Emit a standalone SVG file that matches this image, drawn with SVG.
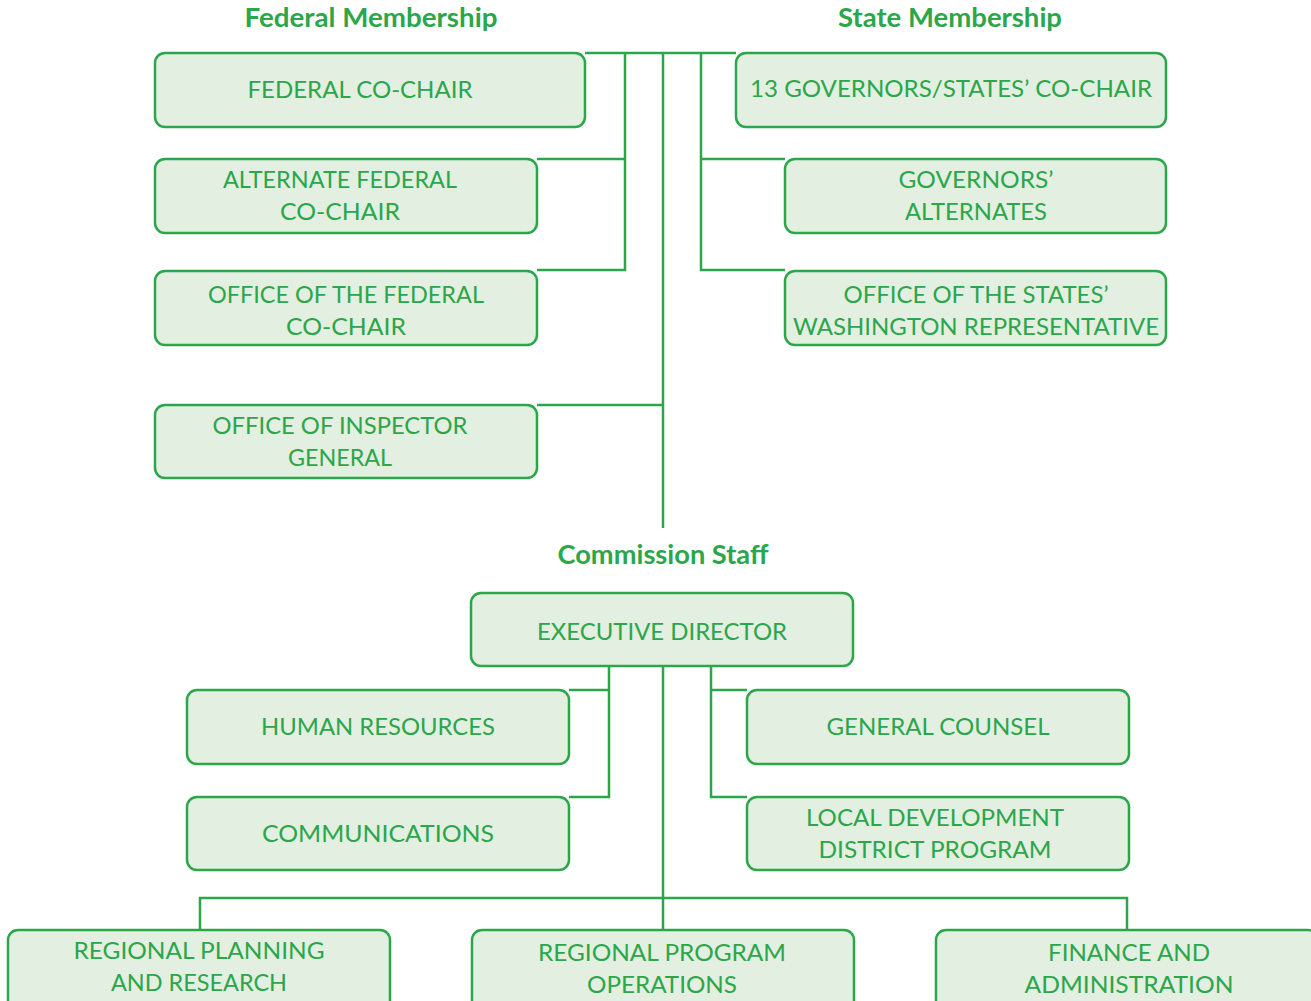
<svg xmlns="http://www.w3.org/2000/svg" width="1311" height="1001" viewBox="0 0 1311 1001">
<style>
.box{fill:#e3efe0;stroke:#2ba64a;stroke-width:2.5}
.ln{fill:none;stroke:#2ba64a;stroke-width:2.5}
.t{font-family:Lato,"Open Sans","Liberation Sans",sans-serif;font-size:24px;fill:#2ba64a;text-anchor:middle}
.h{font-family:Lato,"Open Sans","Liberation Sans",sans-serif;font-size:26px;font-weight:bold;fill:#2ba64a;text-anchor:middle}
</style>
<rect width="1311" height="1001" fill="#fff"/>
<g id="headers">
<text class="h" x="371" y="27" textLength="253" lengthAdjust="spacingAndGlyphs">Federal Membership</text>
<text class="h" x="950" y="27" textLength="224" lengthAdjust="spacingAndGlyphs">State Membership</text>
<text class="h" x="663" y="564" textLength="211" lengthAdjust="spacingAndGlyphs">Commission Staff</text>
</g>
<g id="connectors">
<path class="ln" d="M585 53H736"/>
<path class="ln" d="M625 53V270H537M625 159H537"/>
<path class="ln" d="M663 53V528"/>
<path class="ln" d="M663 405H537"/>
<path class="ln" d="M701 53V270H785M701 159H785"/>
<path class="ln" d="M609 666V797H569M609 690H569"/>
<path class="ln" d="M711 666V797H747M711 690H747"/>
<path class="ln" d="M663 666V930"/>
<path class="ln" d="M200 930V898H1127V930"/>
</g>
<g id="federal-co-chair">
<rect class="box" x="155" y="53" width="430" height="74" rx="10"/>
<text class="t" x="360" y="98" textLength="225" lengthAdjust="spacingAndGlyphs">FEDERAL CO-CHAIR</text>
</g>
<g id="alternate-federal-co-chair">
<rect class="box" x="155" y="159" width="382" height="74" rx="10"/>
<text class="t" x="340" y="188" textLength="234" lengthAdjust="spacingAndGlyphs">ALTERNATE FEDERAL</text>
<text class="t" x="340" y="220" textLength="120" lengthAdjust="spacingAndGlyphs">CO-CHAIR</text>
</g>
<g id="office-federal-co-chair">
<rect class="box" x="155" y="271" width="382" height="74" rx="10"/>
<text class="t" x="346" y="303" textLength="276" lengthAdjust="spacingAndGlyphs">OFFICE OF THE FEDERAL</text>
<text class="t" x="346" y="335" textLength="120" lengthAdjust="spacingAndGlyphs">CO-CHAIR</text>
</g>
<g id="inspector-general">
<rect class="box" x="155" y="405" width="382" height="73" rx="10"/>
<text class="t" x="340" y="434" textLength="255" lengthAdjust="spacingAndGlyphs">OFFICE OF INSPECTOR</text>
<text class="t" x="340" y="466" textLength="104" lengthAdjust="spacingAndGlyphs">GENERAL</text>
</g>
<g id="states-co-chair">
<rect class="box" x="736" y="53" width="430" height="74" rx="10"/>
<text class="t" x="951" y="97" textLength="402" lengthAdjust="spacingAndGlyphs">13 GOVERNORS/STATES’ CO-CHAIR</text>
</g>
<g id="governors-alternates">
<rect class="box" x="785" y="159" width="381" height="74" rx="10"/>
<text class="t" x="976" y="188" textLength="155" lengthAdjust="spacingAndGlyphs">GOVERNORS’</text>
<text class="t" x="976" y="220" textLength="142" lengthAdjust="spacingAndGlyphs">ALTERNATES</text>
</g>
<g id="office-states-rep">
<rect class="box" x="785" y="271" width="381" height="74" rx="10"/>
<text class="t" x="976" y="303" textLength="265" lengthAdjust="spacingAndGlyphs">OFFICE OF THE STATES’</text>
<text class="t" x="976" y="335" textLength="366" lengthAdjust="spacingAndGlyphs">WASHINGTON REPRESENTATIVE</text>
</g>
<g id="executive-director">
<rect class="box" x="471" y="593" width="382" height="73" rx="10"/>
<text class="t" x="662" y="640" textLength="250" lengthAdjust="spacingAndGlyphs">EXECUTIVE DIRECTOR</text>
</g>
<g id="human-resources">
<rect class="box" x="187" y="690" width="382" height="74" rx="10"/>
<text class="t" x="378" y="735" textLength="234" lengthAdjust="spacingAndGlyphs">HUMAN RESOURCES</text>
</g>
<g id="communications">
<rect class="box" x="187" y="797" width="382" height="73" rx="10"/>
<text class="t" x="378" y="842" textLength="232" lengthAdjust="spacingAndGlyphs">COMMUNICATIONS</text>
</g>
<g id="general-counsel">
<rect class="box" x="747" y="690" width="382" height="74" rx="10"/>
<text class="t" x="938" y="735" textLength="223" lengthAdjust="spacingAndGlyphs">GENERAL COUNSEL</text>
</g>
<g id="local-development">
<rect class="box" x="747" y="797" width="382" height="73" rx="10"/>
<text class="t" x="935" y="826" textLength="258" lengthAdjust="spacingAndGlyphs">LOCAL DEVELOPMENT</text>
<text class="t" x="935" y="858" textLength="233" lengthAdjust="spacingAndGlyphs">DISTRICT PROGRAM</text>
</g>
<g id="regional-planning">
<rect class="box" x="8" y="930" width="382" height="90" rx="10"/>
<text class="t" x="199" y="959" textLength="251" lengthAdjust="spacingAndGlyphs">REGIONAL PLANNING</text>
<text class="t" x="199" y="991" textLength="176" lengthAdjust="spacingAndGlyphs">AND RESEARCH</text>
</g>
<g id="regional-program">
<rect class="box" x="472" y="930" width="382" height="90" rx="10"/>
<text class="t" x="662" y="961" textLength="248" lengthAdjust="spacingAndGlyphs">REGIONAL PROGRAM</text>
<text class="t" x="662" y="993" textLength="150" lengthAdjust="spacingAndGlyphs">OPERATIONS</text>
</g>
<g id="finance-admin">
<rect class="box" x="936" y="930" width="382" height="90" rx="10"/>
<text class="t" x="1129" y="961" textLength="162" lengthAdjust="spacingAndGlyphs">FINANCE AND</text>
<text class="t" x="1129" y="993" textLength="209" lengthAdjust="spacingAndGlyphs">ADMINISTRATION</text>
</g>
</svg>
